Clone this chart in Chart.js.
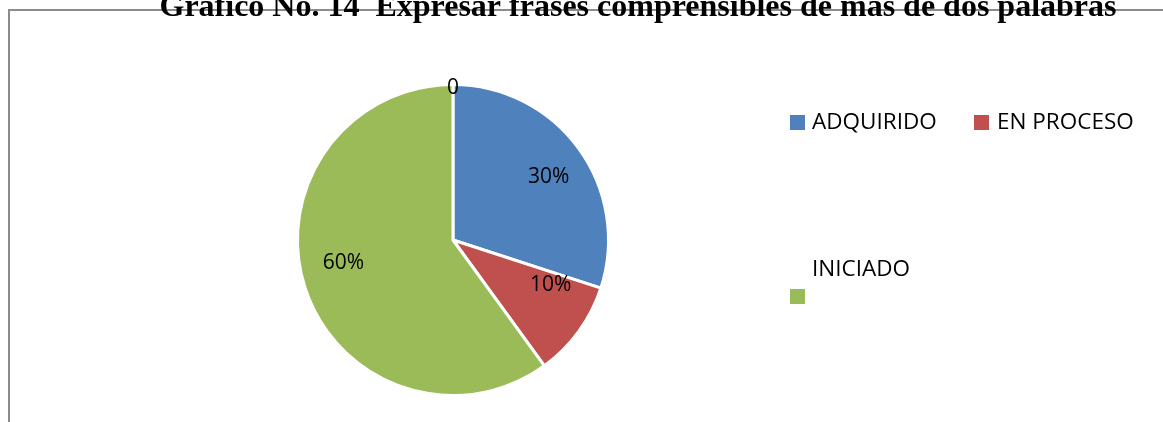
<!DOCTYPE html>
<html>
<head>
<meta charset="utf-8">
<script src="https://cdn.jsdelivr.net/npm/chart.js@4/dist/chart.umd.min.js"></script>
<style>
  html, body { margin: 0; padding: 0; background: #fff; }
  #wrap { width: 1163px; height: 422px; position: relative; }
</style>
</head>
<body>
<div id="wrap"><canvas id="chartPie"></canvas></div>
<script>
const chartTitle = 'Gráfico No. 14  Expresar frases comprensibles de más de dos palabras';
const categories = ['ADQUIRIDO', 'EN PROCESO', 'INICIADO', ''];
const values = [30, 10, 60, 0];
const valueLabels = ['30%', '10%', '60%', '0'];
const colors = ['#4F81BD', '#C0504D', '#9BBB59', '#8064A2'];

const labelFont = '21px "Open Sans", sans-serif';
const legendFont = '22.5px "Open Sans", sans-serif';
// small nudges so labels sit where the original put them (best fit)
const labelNudge = [[5, 3], [7, -21], [-3, -12], [0, 2]];

// frame + title drawn behind the pie
const framePlugin = {
    id: 'frame',
    beforeDraw(chart) {
        const c = chart.ctx;
        c.save();
        c.strokeStyle = '#8c8c8c';
        c.lineWidth = 2;
        c.beginPath();
        c.moveTo(1170, 10);
        c.lineTo(9, 10);
        c.lineTo(9, 430);
        c.stroke();
        c.fillStyle = '#000';
        c.font = 'bold 32px "Liberation Serif", serif';
        c.textAlign = 'center';
        c.textBaseline = 'alphabetic';
        c.fillText(chartTitle, 638, 16);
        c.restore();
    }
};

// value labels on the slices
const sliceLabels = {
    id: 'sliceLabels',
    afterDatasetsDraw(chart) {
        const c = chart.ctx;
        const meta = chart.getDatasetMeta(0);
        c.save();
        c.fillStyle = '#000';
        c.font = labelFont;
        c.textAlign = 'center';
        c.textBaseline = 'middle';
        meta.data.forEach((arc, i) => {
            const p = arc.getProps(['x', 'y', 'startAngle', 'endAngle', 'outerRadius'], true);
            const mid = (p.startAngle + p.endAngle) / 2;
            const r = values[i] === 0 ? p.outerRadius - 2 : p.outerRadius * 0.72;
            c.fillText(valueLabels[i],
                p.x + Math.cos(mid) * r + labelNudge[i][0],
                p.y + Math.sin(mid) * r + labelNudge[i][1]);
        });
        c.restore();
    }
};

// legend laid out like the original (third entry wrapped)
const legendBoxes = {
    id: 'legendBoxes',
    afterDraw(chart) {
        const c = chart.ctx;
        const spots = [
            { bx: 790, by: 115, tx: 812, ty: 123 },
            { bx: 974, by: 115, tx: 997, ty: 123 },
            { bx: 790, by: 289, tx: 812, ty: 270 }
        ];
        c.save();
        c.font = legendFont;
        c.textBaseline = 'middle';
        c.textAlign = 'left';
        spots.forEach((s, i) => {
            c.fillStyle = colors[i];
            c.fillRect(s.bx, s.by, 15, 15);
            c.fillStyle = '#000';
            c.fillText(categories[i], s.tx, s.ty);
        });
        c.restore();
    }
};

let ctxPie = document.querySelector('#chartPie').getContext('2d');
let chartPie = new Chart(ctxPie, {
    type: 'pie',
    data: {
        labels: categories,
        datasets: [{
            data: values,
            backgroundColor: colors,
            borderColor: '#ffffff',
            borderWidth: 3
        }]
    },
    options: {
        responsive: true,
        maintainAspectRatio: false,
        animation: false,
        plugins: {
            legend: { display: false },
            tooltip: { enabled: false }
        },
        layout: {
            padding: {
                top: 83,
                bottom: 25,
                left: 295,
                right: 552
            }
        }
    },
    plugins: [framePlugin, sliceLabels, legendBoxes]
});
</script>
</body>
</html>
